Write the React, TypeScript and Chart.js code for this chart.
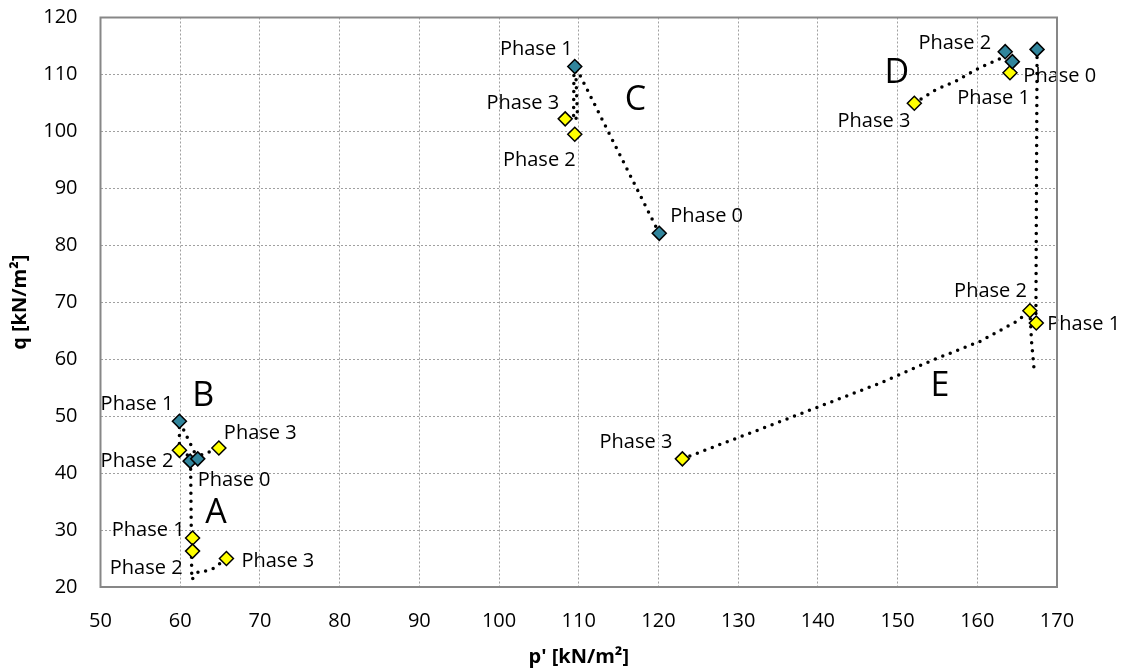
import React, { useEffect, useRef } from 'react';
import { Chart, registerables } from 'chart.js';

Chart.register(...registerables);

// ---- Data ----
const PHASES = ['Phase 0', 'Phase 1', 'Phase 2', 'Phase 3'];
const GROUPS = ['A', 'B', 'C', 'D', 'E'];

// phase points (p', q) for each stress path
const A_P = [61.25, 61.55, 61.55, 65.8];
const A_Q = [42.1, 28.6, 26.3, 25.0];
const B_P = [62.2, 59.9, 59.9, 64.85];
const B_Q = [42.5, 49.1, 44.0, 44.4];
const C_P = [120.1, 109.5, 109.5, 108.3];
const C_Q = [82.1, 111.4, 99.5, 102.2];
const D_P = [164.4, 164.1, 163.5, 152.1];
const D_Q = [112.25, 110.3, 114.0, 104.95];
const E_P = [167.5, 167.4, 166.6, 123.0];
const E_Q = [114.4, 66.35, 68.5, 42.5];

// which marker series each phase point belongs to
const A_KIND = ['blue', 'yellow', 'yellow', 'yellow'];
const B_KIND = ['blue', 'blue', 'yellow', 'yellow'];
const C_KIND = ['blue', 'blue', 'yellow', 'yellow'];
const D_KIND = ['blue', 'yellow', 'blue', 'yellow'];
const E_KIND = ['blue', 'yellow', 'yellow', 'yellow'];

// whether the phase point carries a label
const A_LABELED = [false, true, true, true];
const B_LABELED = [true, true, true, true];
const C_LABELED = [true, true, true, true];
const D_LABELED = [true, true, true, true];
const E_LABELED = [false, true, true, true];

// stress path traces (dotted lines)
const PATH_A_P = [61.3, 61.45, 62.3, 63.2, 64.2, 65.8];
const PATH_A_Q = [42.1, 21.3, 22.7, 22.8, 23.3, 25.0];
const PATH_B_P = [62.2, 59.9, 59.9, 61.6, 64.85];
const PATH_B_Q = [42.5, 49.1, 44.0, 42.6, 44.4];
const PATH_C1_P = [120.1, 109.6, 109.85, 108.3];
const PATH_C1_Q = [82.1, 111.4, 102.3, 102.2];
const PATH_C2_P = [109.4, 109.35];
const PATH_C2_Q = [111.2, 102.3];
const PATH_D_P = [152.1, 154.7, 157.4, 160.3, 162.3, 163.4];
const PATH_D_Q = [104.95, 107.25, 108.9, 111.2, 112.4, 113.1];
const PATH_E1_P = [167.5, 167.35];
const PATH_E1_Q = [114.4, 66.35];
const PATH_E2_P = [166.6, 166.8, 167.1];
const PATH_E2_Q = [68.5, 63.2, 58.6];
const PATH_E3_P = [123.0, 135.0, 147.8, 154.5, 160.3, 164.9, 166.6];
const PATH_E3_Q = [42.5, 48.9, 55.8, 59.9, 63.1, 66.6, 68.5];

// group letters (data coordinates)
const LETTER_P = [64.5, 62.9, 117.1, 149.9, 155.3];
const LETTER_Q = [33.0, 53.5, 105.5, 110.2, 55.2];

const X_MIN = 50, X_MAX = 170, X_STEP = 10;
const Y_MIN = 20, Y_MAX = 120, Y_STEP = 10;
const X_TITLE = "p' [kN/m²]";
const Y_TITLE = 'q [kN/m²]';

// ---- Styling / placement (not data) ----
const FONT = '"Open Sans", "Noto Sans", sans-serif';
const BLUE = '#31859C';
const YELLOW = '#FFFF00';
const GRID = '#a0a0a0';
const FRAME = '#878787';

// label placement: [align, dx, dy] in pixels from the marker
const LABEL_PLACE: Record<string, [CanvasTextAlign, number, number]> = {
  A1: ['right', -8, -8], A2: ['right', -10, 17], A3: ['left', 15, 3],
  B0: ['left', 0, 21], B1: ['right', -6, -17], B2: ['right', -6, 11], B3: ['left', 5, -15],
  C0: ['left', 11, -17], C1: ['right', -2, -17], C2: ['right', 1, 26], C3: ['right', -6, -16],
  D0: ['left', 11, 15], D1: ['right', 20, 26], D2: ['right', -14, -8], D3: ['right', -4, 18],
  E1: ['left', 11, 1], E2: ['right', -3, -19], E3: ['right', -10, -17],
};

const GROUP_P = [A_P, B_P, C_P, D_P, E_P];
const GROUP_Q = [A_Q, B_Q, C_Q, D_Q, E_Q];
const GROUP_KIND = [A_KIND, B_KIND, C_KIND, D_KIND, E_KIND];
const GROUP_LABELED = [A_LABELED, B_LABELED, C_LABELED, D_LABELED, E_LABELED];
const PATHS: [number[], number[]][] = [
  [PATH_A_P, PATH_A_Q], [PATH_B_P, PATH_B_Q], [PATH_C1_P, PATH_C1_Q], [PATH_C2_P, PATH_C2_Q],
  [PATH_D_P, PATH_D_Q], [PATH_E1_P, PATH_E1_Q], [PATH_E2_P, PATH_E2_Q], [PATH_E3_P, PATH_E3_Q],
];

const zip = (xs: number[], ys: number[]) => xs.map((x, i) => ({ x, y: ys[i] }));

function markerData(kind: string) {
  const out: { x: number; y: number }[] = [];
  GROUPS.forEach((_, g) => {
    GROUP_P[g].forEach((p, i) => {
      if (GROUP_KIND[g][i] === kind) out.push({ x: p, y: GROUP_Q[g][i] });
    });
  });
  return out;
}

const annotPlugin = {
  id: 'annot',
  afterDatasetsDraw(chart: any) {
    const { ctx, chartArea, scales } = chart;
    const xs = scales.x, ys = scales.y;
    ctx.save();
    // labels
    ctx.font = `20px ${FONT}`;
    ctx.fillStyle = '#000';
    ctx.textBaseline = 'middle';
    GROUPS.forEach((g, gi) => {
      GROUP_P[gi].forEach((p, i) => {
        if (!GROUP_LABELED[gi][i]) return;
        const place = LABEL_PLACE[g + i];
        if (!place) return;
        const px = xs.getPixelForValue(p);
        const py = ys.getPixelForValue(GROUP_Q[gi][i]);
        ctx.textAlign = place[0];
        ctx.fillText(PHASES[i], px + place[1], py + place[2]);
      });
    });
    // letters
    ctx.font = `34px ${FONT}`;
    ctx.textAlign = 'center';
    GROUPS.forEach((g, gi) => {
      ctx.fillText(g, xs.getPixelForValue(LETTER_P[gi]), ys.getPixelForValue(LETTER_Q[gi]));
    });
    // frame
    ctx.strokeStyle = FRAME;
    ctx.lineWidth = 2;
    ctx.setLineDash([]);
    ctx.strokeRect(chartArea.left, chartArea.top, chartArea.right - chartArea.left, chartArea.bottom - chartArea.top);
    ctx.restore();
  },
};

export default function App() {
  const ref = useRef<HTMLCanvasElement | null>(null);
  useEffect(() => {
    if (!ref.current) return;
    const lineSets = PATHS.map(([px, py]) => ({
      type: 'line' as const,
      data: zip(px, py),
      showLine: true,
      borderColor: '#000',
      borderWidth: 3.5,
      borderDash: [0, 8],
      borderCapStyle: 'round' as const,
      pointRadius: 0,
      fill: false,
      tension: 0,
      order: 2,
    }));
    const markerSets = [
      { kind: 'blue', color: BLUE },
      { kind: 'yellow', color: YELLOW },
    ].map(({ kind, color }) => ({
      type: 'scatter' as const,
      data: markerData(kind),
      showLine: false,
      pointStyle: 'rectRot' as const,
      pointRadius: 7,
      pointBackgroundColor: color,
      pointBorderColor: '#000',
      pointBorderWidth: 1.5,
      order: 1,
    }));
    const chart = new Chart(ref.current, {
      type: 'scatter',
      data: { datasets: [...markerSets, ...lineSets] as any },
      plugins: [annotPlugin],
      options: {
        animation: false,
        responsive: true,
        maintainAspectRatio: false,
        layout: { padding: { left: 0, right: 74, top: 17.5, bottom: 0 } },
        plugins: { legend: { display: false }, tooltip: { enabled: false } },
        scales: {
          x: {
            type: 'linear',
            min: X_MIN,
            max: X_MAX,
            ticks: {
              stepSize: X_STEP,
              color: '#000',
              font: { family: FONT, size: 20 },
              padding: 22,
            },
            grid: { color: GRID, lineWidth: 1, drawTicks: false },
            border: { display: false, dash: [2, 2] },
            title: {
              display: true,
              text: X_TITLE,
              color: '#000',
              font: { family: FONT, size: 20, weight: 'bold' },
              padding: { top: 0, bottom: 1 },
            },
            afterFit: (s: any) => { s.height = 83; s.paddingLeft = 0; s.paddingRight = 0; },
          },
          y: {
            type: 'linear',
            min: Y_MIN,
            max: Y_MAX,
            ticks: {
              stepSize: Y_STEP,
              color: '#000',
              font: { family: FONT, size: 20 },
              padding: 23,
            },
            grid: { color: GRID, lineWidth: 1, drawTicks: false },
            border: { display: false, dash: [2, 2] },
            title: {
              display: true,
              text: Y_TITLE,
              color: '#000',
              font: { family: FONT, size: 20, weight: 'bold' },
              padding: { top: 8, bottom: 0 },
            },
            afterFit: (s: any) => { s.width = 100.5; s.paddingTop = 0; s.paddingBottom = 0; },
          },
        },
      } as any,
    });
    return () => chart.destroy();
  }, []);
  return (
    <div style={{ position: 'absolute', left: 0, top: 0, width: 1131, height: 670 }}>
      <canvas ref={ref} />
    </div>
  );
}
